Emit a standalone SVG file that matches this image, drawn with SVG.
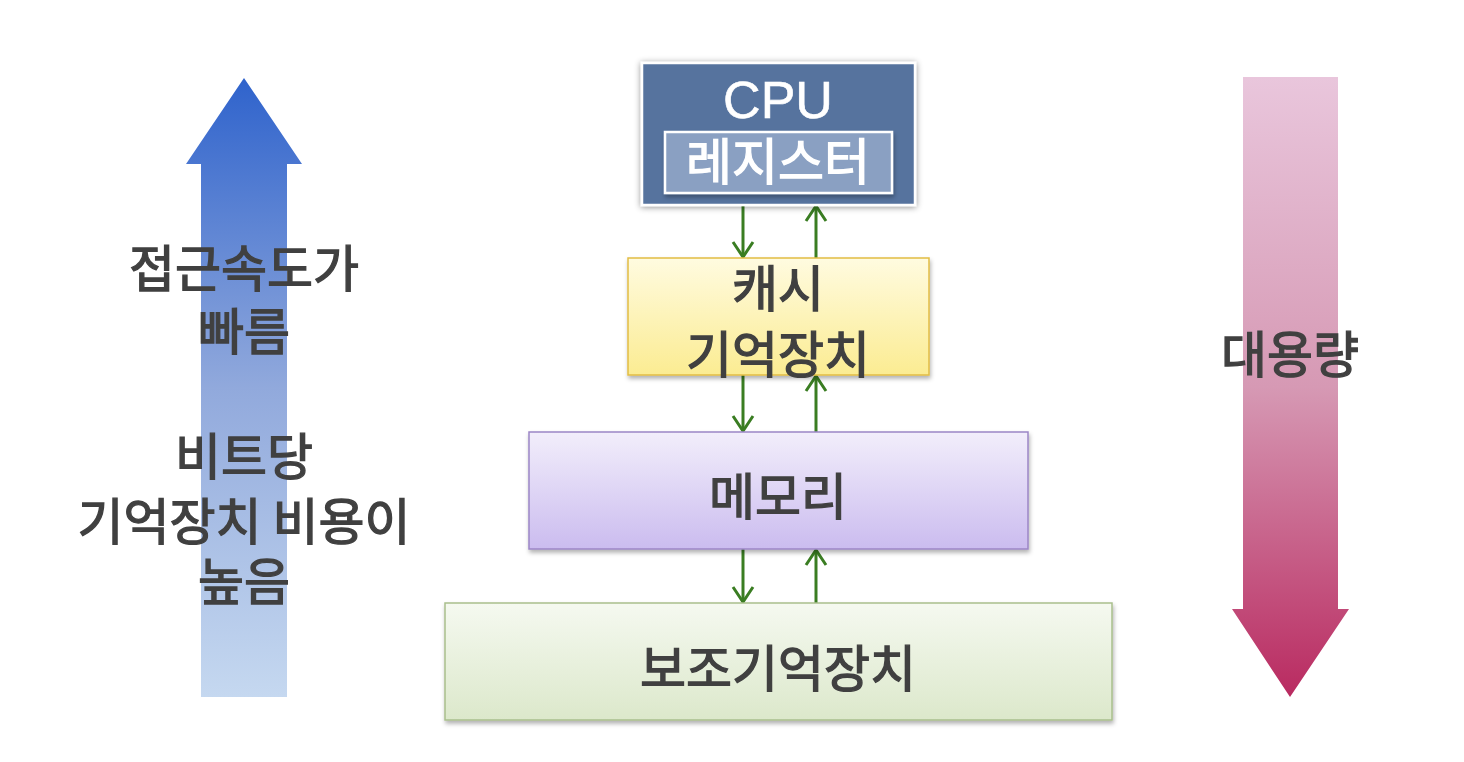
<svg xmlns="http://www.w3.org/2000/svg" width="1464" height="762" viewBox="0 0 1464 762">
  <style>
    .lbl { font-family: "Noto Sans CJK KR", "Noto Sans", sans-serif; font-weight: 400; font-size: 50px; fill: #404040; stroke: #404040; stroke-width: 1.3; text-anchor: middle; }
    .wht { fill: #ffffff; stroke: #ffffff; }
    .link { stroke: #3a7d22; stroke-width: 3; fill: none; marker-end: url(#head); }
  </style>
  <defs>
    <linearGradient id="gUp" x1="0" y1="0" x2="0" y2="1">
      <stop offset="0" stop-color="#2f63cc"/>
      <stop offset="0.5" stop-color="#91a9dc"/>
      <stop offset="1" stop-color="#c5d8f0"/>
    </linearGradient>
    <linearGradient id="gDown" x1="0" y1="0" x2="0" y2="1">
      <stop offset="0" stop-color="#e9c6dc"/>
      <stop offset="0.5" stop-color="#d699b4"/>
      <stop offset="1" stop-color="#b92a60"/>
    </linearGradient>
    <linearGradient id="gCache" x1="0" y1="0" x2="0" y2="1">
      <stop offset="0" stop-color="#fffbe0"/>
      <stop offset="1" stop-color="#fbec92"/>
    </linearGradient>
    <linearGradient id="gMem" x1="0" y1="0" x2="0" y2="1">
      <stop offset="0" stop-color="#f2eefb"/>
      <stop offset="1" stop-color="#cbbcef"/>
    </linearGradient>
    <linearGradient id="gAux" x1="0" y1="0" x2="0" y2="1">
      <stop offset="0" stop-color="#f5f9f0"/>
      <stop offset="1" stop-color="#dce8cb"/>
    </linearGradient>
    <filter id="shadow" x="-10%" y="-20%" width="120%" height="150%">
      <feDropShadow dx="1" dy="3" stdDeviation="2" flood-color="#000" flood-opacity="0.3"/>
    </filter>
    <filter id="glow" x="-10%" y="-20%" width="120%" height="140%">
      <feDropShadow dx="0" dy="1" stdDeviation="3" flood-color="#000" flood-opacity="0.45"/>
    </filter>
    <!-- open chevron arrowhead, drawn along +x so orient="auto" follows the line -->
    <marker id="head" viewBox="0 0 20 24" refX="18" refY="12" markerWidth="20" markerHeight="24" markerUnits="userSpaceOnUse" orient="auto">
      <path d="M3 2 L18 12 L3 22" stroke="#3a7d22" stroke-width="3" fill="none"/>
    </marker>
  </defs>

  <!-- speed / cost arrow -->
  <g id="speed-arrow">
    <polygon points="244,78 302,164 287,164 287,697 201,697 201,164 186,164" fill="url(#gUp)"/>
    <text class="lbl" x="244" y="287">접근속도가</text>
    <text class="lbl" x="244" y="350">빠름</text>
    <text class="lbl" x="244" y="475">비트당</text>
    <text class="lbl" x="244" y="540">기억장치 비용이</text>
    <text class="lbl" x="244" y="600">높음</text>
  </g>

  <!-- capacity arrow -->
  <g id="capacity-arrow">
    <polygon points="1243,77 1338,77 1338,609 1349,609 1290,697 1232,609 1243,609" fill="url(#gDown)"/>
    <text class="lbl" x="1290" y="373">대용량</text>
  </g>

  <!-- connectors between levels -->
  <g id="connectors">
    <line class="link" x1="743" y1="205" x2="743" y2="257"/>
    <line class="link" x1="816" y1="258" x2="816" y2="206"/>
    <line class="link" x1="743" y1="375" x2="743" y2="431"/>
    <line class="link" x1="816" y1="432" x2="816" y2="376"/>
    <line class="link" x1="743" y1="549" x2="743" y2="602"/>
    <line class="link" x1="816" y1="603" x2="816" y2="550"/>
  </g>

  <g id="cpu">
    <rect x="642" y="63" width="273" height="142" fill="#56739e" stroke="#ffffff" stroke-width="2.5" filter="url(#glow)"/>
    <text x="778" y="118" font-family="Liberation Sans, Arial, sans-serif" font-size="52" fill="#ffffff" stroke="#ffffff" stroke-width="0.6" text-anchor="middle">CPU</text>
    <rect x="665" y="132" width="227" height="61" fill="#8aa0c2" stroke="#ffffff" stroke-width="2.5" filter="url(#shadow)"/>
    <text class="lbl wht" x="778" y="180">레지스터</text>
  </g>

  <g id="cache">
    <rect x="628" y="258" width="301" height="117" fill="url(#gCache)" stroke="#e2bd44" stroke-width="1.5" filter="url(#shadow)"/>
    <text class="lbl" x="778" y="307">캐시</text>
    <text class="lbl" x="778" y="373">기억장치</text>
  </g>

  <g id="memory">
    <rect x="529" y="432" width="499" height="117" fill="url(#gMem)" stroke="#9c86c6" stroke-width="1.5" filter="url(#shadow)"/>
    <text class="lbl" x="778" y="515">메모리</text>
  </g>

  <g id="secondary">
    <rect x="445" y="603" width="667" height="117" fill="url(#gAux)" stroke="#a9bf8c" stroke-width="1.5" filter="url(#shadow)"/>
    <text class="lbl" x="778" y="687">보조기억장치</text>
  </g>
</svg>
